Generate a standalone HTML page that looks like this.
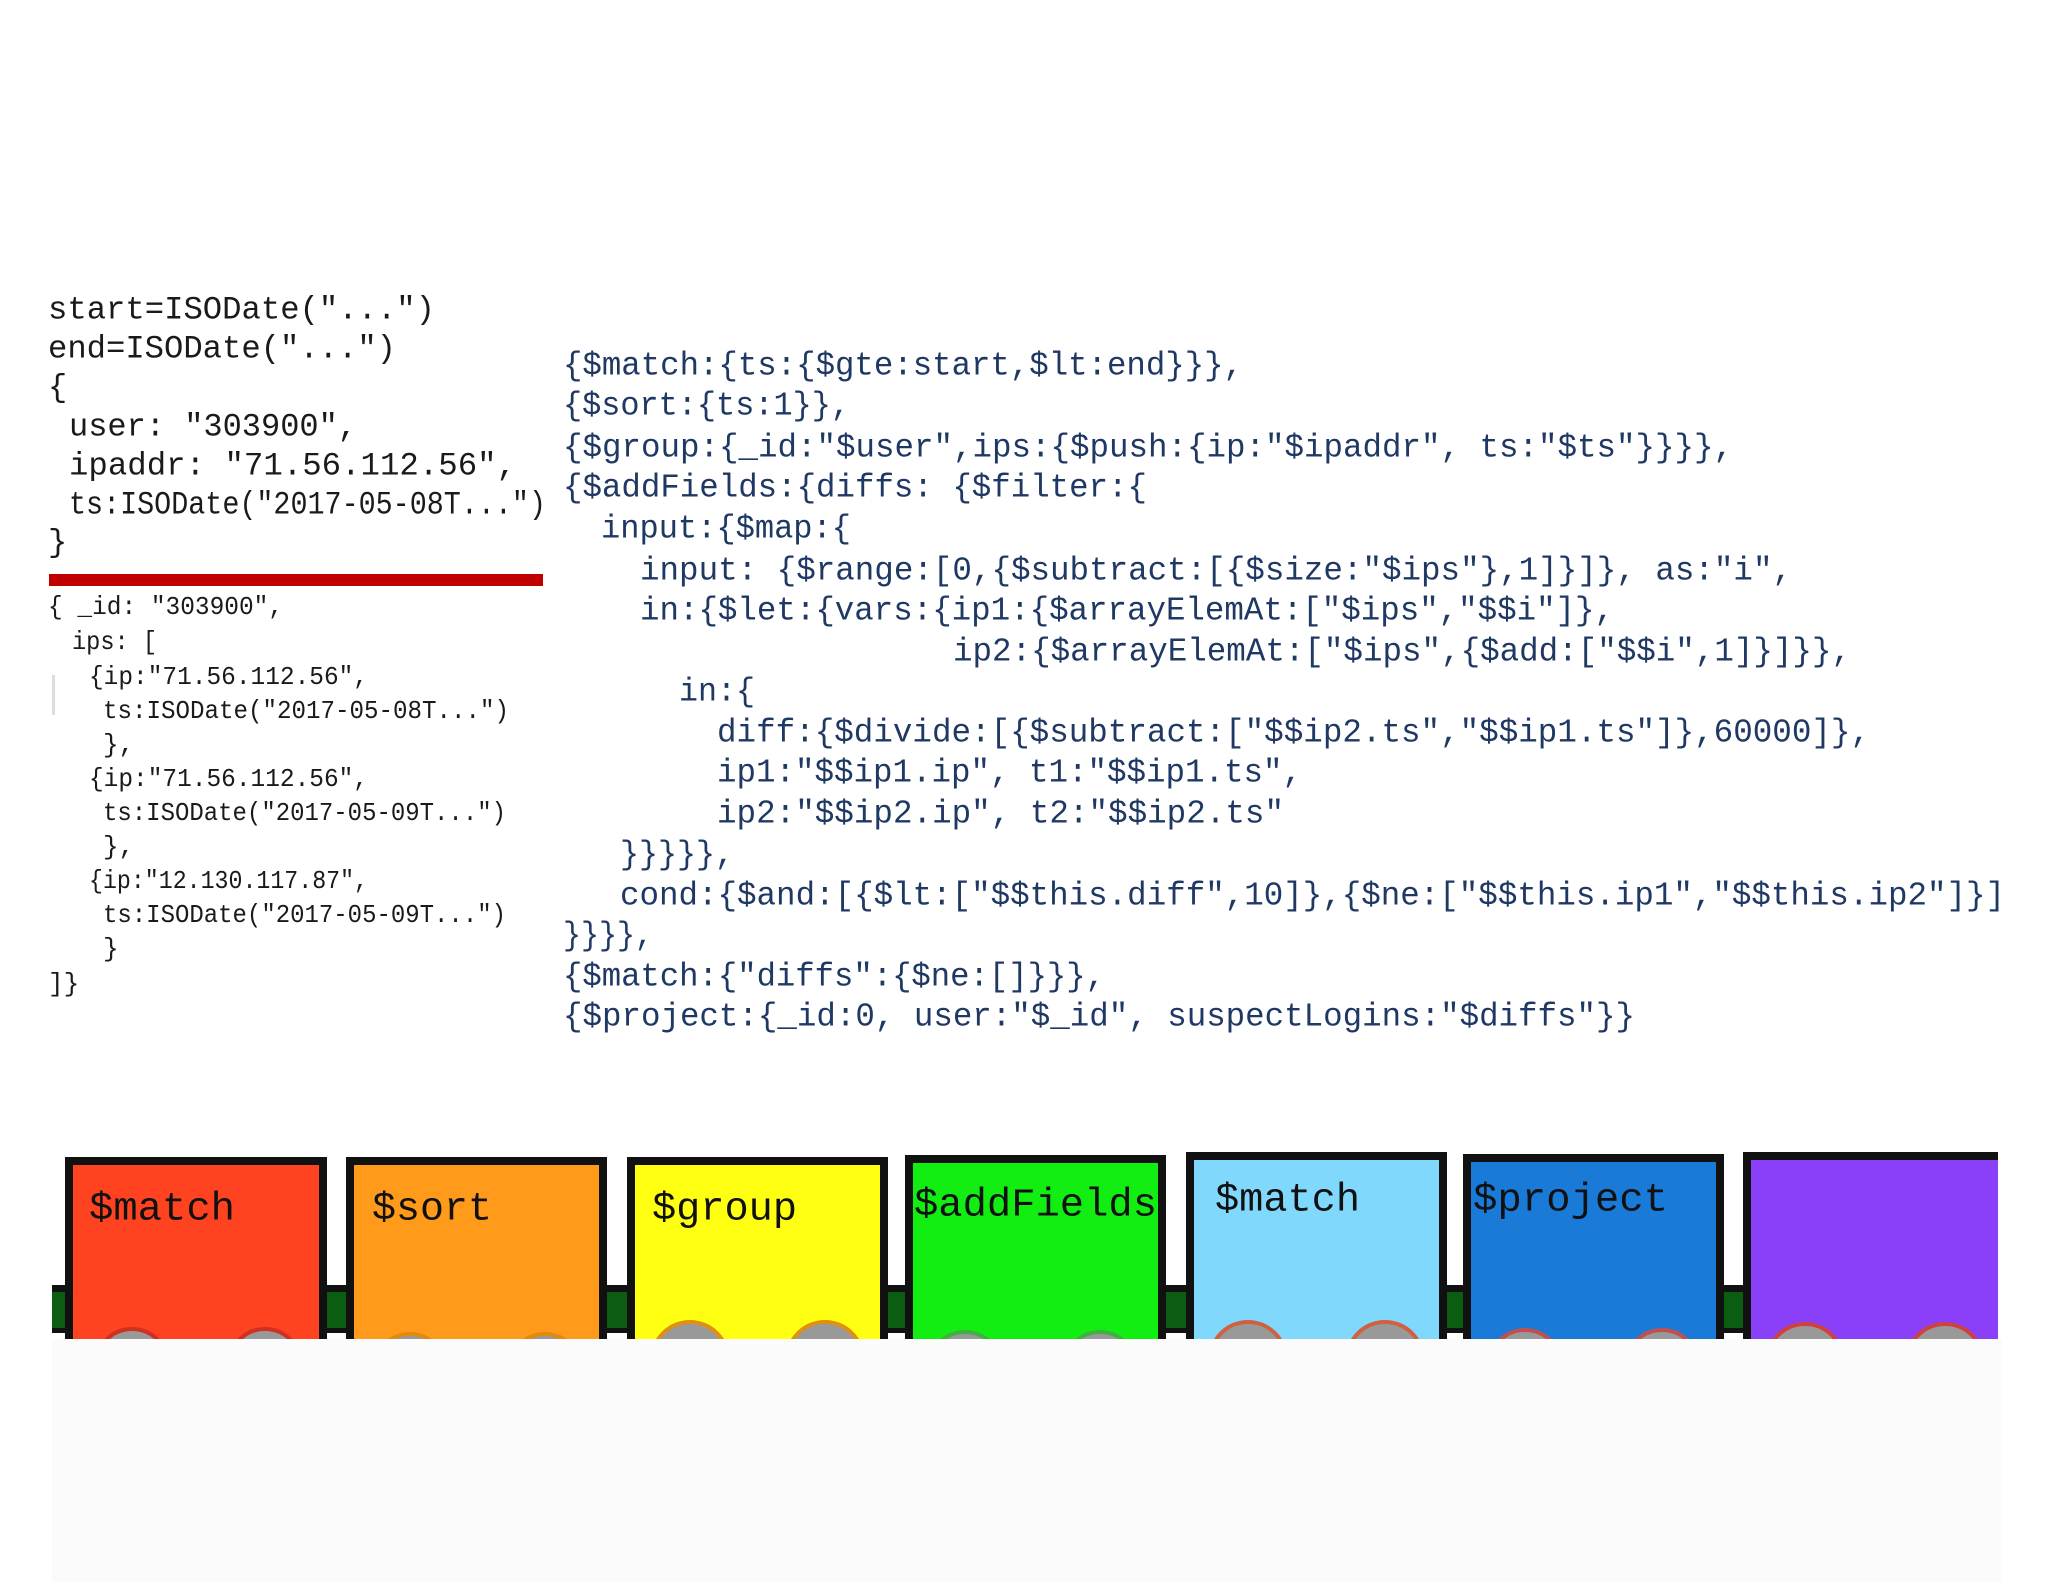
<!DOCTYPE html>
<html><head><meta charset="utf-8"><style>
html,body{margin:0;padding:0;background:#fff;}
svg{display:block;}
.m{font-family:"Liberation Mono",monospace;}
</style></head><body>
<svg width="2048" height="1582" viewBox="0 0 2048 1582" xmlns="http://www.w3.org/2000/svg">
<rect width="2048" height="1582" fill="#fff"/>
<rect x="52" y="1339" width="1950" height="243" fill="#fbfbfb"/>

<!-- left top block -->
<g class="m" fill="#1a1a1a" font-size="32" dominant-baseline="central" lengthAdjust="spacingAndGlyphs" xml:space="preserve">
<text x="48" y="310" textLength="387" lengthAdjust="spacingAndGlyphs">start=ISODate("...")</text>
<text x="48" y="349" textLength="348" lengthAdjust="spacingAndGlyphs">end=ISODate("...")</text>
<text x="48" y="388">{</text>
<text x="69" y="427" textLength="288" lengthAdjust="spacingAndGlyphs">user: "303900",</text>
<text x="69" y="466" textLength="447" lengthAdjust="spacingAndGlyphs">ipaddr: "71.56.112.56",</text>
<text x="69" y="505" textLength="477" lengthAdjust="spacingAndGlyphs">ts:ISODate("2017-05-08T...")</text>
<text x="48" y="543">}</text>
</g>
<rect x="49" y="574" width="494" height="12" fill="#c00000"/>

<!-- left bottom block -->
<rect x="52" y="675" width="3" height="40" fill="#ddd"/>
<g class="m" fill="#1a1a1a" font-size="26" dominant-baseline="central">
<text x="48" y="607" textLength="235" lengthAdjust="spacingAndGlyphs">{ _id: "303900",</text>
<text x="72" y="642" textLength="85" lengthAdjust="spacingAndGlyphs">ips: [</text>
<text x="89" y="677" textLength="279" lengthAdjust="spacingAndGlyphs">{ip:"71.56.112.56",</text>
<text x="103" y="711" textLength="406" lengthAdjust="spacingAndGlyphs">ts:ISODate("2017-05-08T...")</text>
<text x="103" y="745">},</text>
<text x="89" y="779" textLength="279" lengthAdjust="spacingAndGlyphs">{ip:"71.56.112.56",</text>
<text x="103" y="813" textLength="403" lengthAdjust="spacingAndGlyphs">ts:ISODate("2017-05-09T...")</text>
<text x="103" y="847">},</text>
<text x="89" y="881" textLength="279" lengthAdjust="spacingAndGlyphs">{ip:"12.130.117.87",</text>
<text x="103" y="915" textLength="403" lengthAdjust="spacingAndGlyphs">ts:ISODate("2017-05-09T...")</text>
<text x="103" y="949">}</text>
<text x="48" y="984">]}</text>
</g>

<!-- right block -->
<g class="m" fill="#1f3864" font-size="33" dominant-baseline="central">
<text x="563" y="366" textLength="680" lengthAdjust="spacingAndGlyphs">{$match:{ts:{$gte:start,$lt:end}}},</text>
<text x="563" y="406" textLength="287" lengthAdjust="spacingAndGlyphs">{$sort:{ts:1}},</text>
<text x="563" y="448" textLength="1170" lengthAdjust="spacingAndGlyphs">{$group:{_id:"$user",ips:{$push:{ip:"$ipaddr", ts:"$ts"}}}},</text>
<text x="563" y="488" textLength="584" lengthAdjust="spacingAndGlyphs">{$addFields:{diffs: {$filter:{</text>
<text x="601" y="529" textLength="250" lengthAdjust="spacingAndGlyphs">input:{$map:{</text>
<text x="640" y="571" textLength="1152" lengthAdjust="spacingAndGlyphs">input: {$range:[0,{$subtract:[{$size:"$ips"},1]}]}, as:"i",</text>
<text x="640" y="611" textLength="974" lengthAdjust="spacingAndGlyphs">in:{$let:{vars:{ip1:{$arrayElemAt:["$ips","$$i"]},</text>
<text x="953" y="652" textLength="898" lengthAdjust="spacingAndGlyphs">ip2:{$arrayElemAt:["$ips",{$add:["$$i",1]}]}},</text>
<text x="679" y="692" textLength="76" lengthAdjust="spacingAndGlyphs">in:{</text>
<text x="717" y="733" textLength="1153" lengthAdjust="spacingAndGlyphs">diff:{$divide:[{$subtract:["$$ip2.ts","$$ip1.ts"]},60000]},</text>
<text x="717" y="773" textLength="585" lengthAdjust="spacingAndGlyphs">ip1:"$$ip1.ip", t1:"$$ip1.ts",</text>
<text x="717" y="814" textLength="567" lengthAdjust="spacingAndGlyphs">ip2:"$$ip2.ip", t2:"$$ip2.ts"</text>
<text x="620" y="855" textLength="114" lengthAdjust="spacingAndGlyphs">}}}}},</text>
<text x="620" y="896" textLength="1385" lengthAdjust="spacingAndGlyphs">cond:{$and:[{$lt:["$$this.diff",10]},{$ne:["$$this.ip1","$$this.ip2"]}]</text>
<text x="563" y="936" textLength="90" lengthAdjust="spacingAndGlyphs">}}}},</text>
<text x="563" y="977" textLength="542" lengthAdjust="spacingAndGlyphs">{$match:{"diffs":{$ne:[]}}},</text>
<text x="563" y="1017" textLength="1072" lengthAdjust="spacingAndGlyphs">{$project:{_id:0, user:"$_id", suspectLogins:"$diffs"}}</text>
</g>

<!-- train connectors -->
<rect x="52" y="1285" width="1946" height="48" fill="#111"/>
<rect x="52" y="1292" width="1946" height="36" fill="#0b5d12"/>

<!-- cars -->
<g>
<rect x="65" y="1157" width="262" height="190" fill="#111"/>
<rect x="73" y="1165" width="246" height="174" fill="#ff4320"/>
<rect x="346" y="1157" width="261" height="190" fill="#111"/>
<rect x="354" y="1165" width="245" height="174" fill="#ff9a1a"/>
<rect x="627" y="1157" width="261" height="190" fill="#111"/>
<rect x="635" y="1165" width="245" height="174" fill="#ffff12"/>
<rect x="905" y="1155" width="261" height="192" fill="#111"/>
<rect x="913" y="1163" width="245" height="176" fill="#12ee12"/>
<rect x="1186" y="1152" width="261" height="195" fill="#111"/>
<rect x="1194" y="1160" width="245" height="179" fill="#80d8fc"/>
<rect x="1463" y="1154" width="261" height="193" fill="#111"/>
<rect x="1471" y="1162" width="245" height="177" fill="#1a7ad8"/>
<rect x="1743" y="1152" width="255" height="195" fill="#111"/>
<rect x="1751" y="1160" width="247" height="179" fill="#8a40f8"/>
</g>
<!-- wheels -->
<g fill="#999" stroke-width="4">
<circle cx="132" cy="1365" r="36" stroke="#d03020"/><circle cx="265" cy="1365" r="36" stroke="#d03020"/>
<circle cx="410" cy="1370" r="36" stroke="#e08a10"/><circle cx="545" cy="1370" r="36" stroke="#e08a10"/>
<circle cx="690" cy="1360" r="38" stroke="#e09010"/><circle cx="825" cy="1360" r="38" stroke="#e09010"/>
<circle cx="965" cy="1368" r="36" stroke="#40b040"/><circle cx="1100" cy="1368" r="36" stroke="#40b040"/>
<circle cx="1248" cy="1360" r="38" stroke="#d06040"/><circle cx="1385" cy="1360" r="38" stroke="#d06040"/>
<circle cx="1525" cy="1366" r="36" stroke="#c05050"/><circle cx="1662" cy="1366" r="36" stroke="#c05050"/>
<circle cx="1805" cy="1362" r="38" stroke="#d04040"/><circle cx="1945" cy="1362" r="38" stroke="#d04040"/>
</g>
<rect x="0" y="1339" width="2048" height="243" fill="#fbfbfb"/>
<rect x="0" y="1339" width="52" height="243" fill="#fff"/>
<rect x="2002" y="1339" width="46" height="243" fill="#fff"/>

<g class="m" fill="#111" font-size="40" dominant-baseline="central">
<text x="89" y="1210" textLength="146" lengthAdjust="spacingAndGlyphs">$match</text>
<text x="372" y="1210" textLength="120" lengthAdjust="spacingAndGlyphs">$sort</text>
<text x="652" y="1210" textLength="145" lengthAdjust="spacingAndGlyphs">$group</text>
<text x="914" y="1206" textLength="243" lengthAdjust="spacingAndGlyphs">$addFields</text>
<text x="1215" y="1201" textLength="145" lengthAdjust="spacingAndGlyphs">$match</text>
<text x="1473" y="1201" textLength="195" lengthAdjust="spacingAndGlyphs">$project</text>
</g>
</svg>
</body></html>
